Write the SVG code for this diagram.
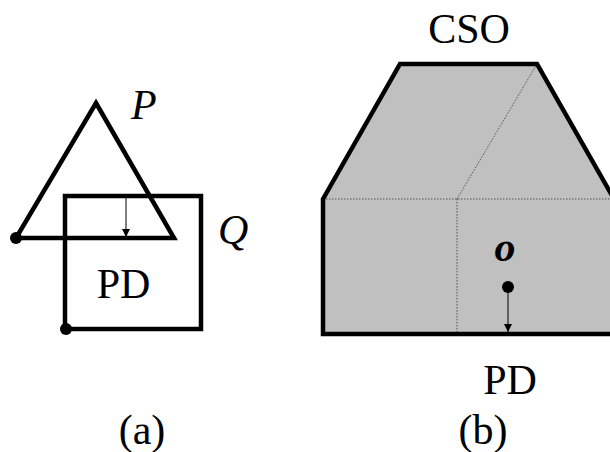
<svg xmlns="http://www.w3.org/2000/svg" width="610" height="452" viewBox="0 0 610 452">
<style>
.thick{fill:none;stroke:#000;stroke-width:4.5;stroke-linejoin:miter}
.txt{font-family:"Liberation Serif","Times New Roman",serif;font-size:42px;fill:#000}
.it{font-style:italic}
.dot{fill:#000}
.thin{stroke:#000;stroke-width:1;fill:none}
.dotted{stroke:#555;stroke-width:1;stroke-dasharray:1.5,1.5;fill:none}
</style>
<defs>
<marker id="ah" viewBox="0 0 8 10" refX="8" refY="5" markerWidth="8" markerHeight="10" markerUnits="userSpaceOnUse" orient="auto">
<path d="M0,1 L8,5 L0,9 Z" fill="#000"/>
</marker>
</defs>
<rect width="610" height="452" fill="#fff"/>
<g id="panel-a">
<g id="triangle-P">
<polygon class="thick" points="96,103 174,238 16,238"/>
<circle class="dot" cx="16" cy="238" r="6"/>
</g>
<g id="square-Q">
<rect class="thick" x="65" y="196" width="136" height="133"/>
<circle class="dot" cx="66" cy="329" r="6"/>
</g>
<text class="txt it" x="131" y="119">P</text>
<text class="txt it" x="218" y="244">Q</text>
<text class="txt" x="123.5" y="298" text-anchor="middle">PD</text>
<text class="txt" x="142" y="444" text-anchor="middle">(a)</text>
</g>
<g id="panel-b">
<g id="cso">
<polygon points="400,64 537,64 614,199 614,334 323,334 323,199" fill="#c0c0c0" stroke="none"/>
<line class="dotted" x1="323" y1="199" x2="610" y2="199"/>
<line class="dotted" x1="457" y1="199" x2="457" y2="334"/>
<line class="dotted" x1="457" y1="199" x2="537" y2="64" stroke="#888"/>
<polygon class="thick" points="400,64 537,64 614,199 614,334 323,334 323,199"/>
<circle class="dot" cx="508" cy="287" r="6"/>
</g>
<text class="txt" x="469" y="43" text-anchor="middle">CSO</text>
<text class="txt it" x="505" y="261" text-anchor="middle" font-weight="bold" font-size="48">o</text>
<text class="txt" x="510" y="394" text-anchor="middle">PD</text>
<text class="txt" x="483" y="444" text-anchor="middle">(b)</text>
</g>
<g id="connectors">
<line class="thin" x1="126" y1="197" x2="126" y2="237" marker-end="url(#ah)"/>
<line class="thin" x1="508" y1="290" x2="508" y2="332" marker-end="url(#ah)"/>
</g>
</svg>
